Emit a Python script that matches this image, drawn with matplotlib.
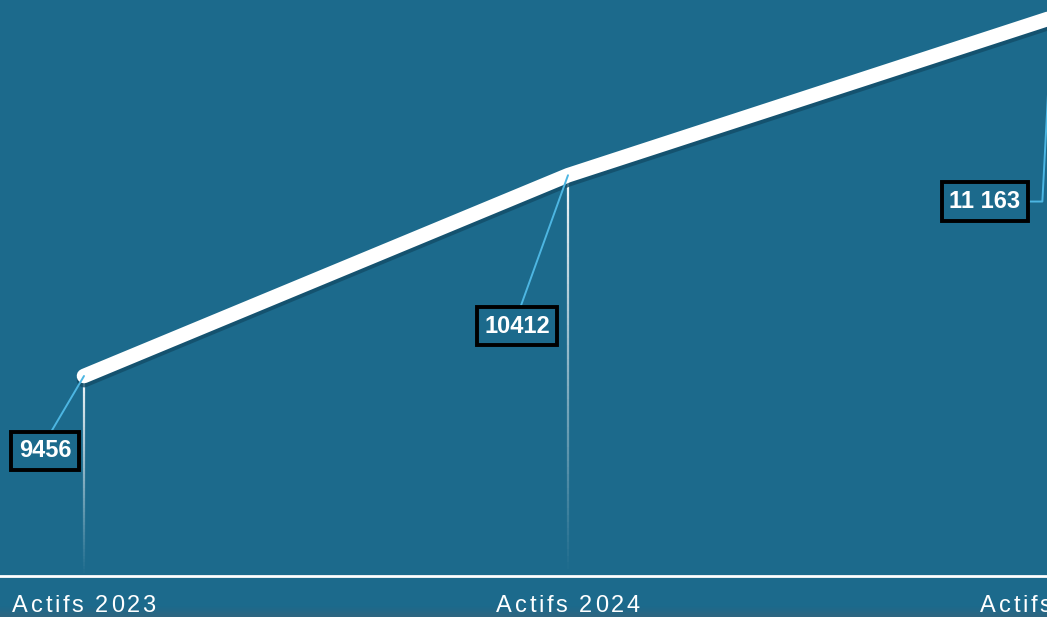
import matplotlib.pyplot as plt
import matplotlib.patheffects as pe
import numpy as np
from matplotlib.collections import LineCollection

# actifs par année
categories = ['Actifs 2023', 'Actifs 2024', 'Actifs 2025']
values = [9456, 10412, 11163]
labels = ['9456', '10412', '11 163']

BG = '#1c6a8c'
LEADER = '#4db6e2'

plt.rcParams['font.family'] = ['Liberation Sans', 'DejaVu Sans']

fig = plt.figure(figsize=(10.47, 6.17), dpi=100, facecolor=BG)
ax = fig.add_axes([0, 0, 1, 1])
ax.set_facecolor(BG)

# 484 px between categories, first point at x=84
ax.set_xlim(-84 / 484, 963 / 484)
# 0.21 px per unit, 9456 sits at 376 px from the top
ppu = 0.21
ax.set_ylim(9456 - 241 / ppu, 9456 + 376 / ppu)
base = 9456 - 200 / ppu
ax.axis('off')

x = np.arange(len(values))

# fading drop lines
for xi, v in zip(x, values):
    ys = np.linspace(v, base, 60)
    segs = [[(xi, ys[i]), (xi, ys[i + 1])] for i in range(len(ys) - 1)]
    alphas = np.linspace(0.95, 0.0, len(segs))
    cols = [(1, 1, 1, a) for a in alphas]
    ax.add_collection(LineCollection(segs, colors=cols, linewidths=1.6, zorder=2))

# baseline
ax.axhline(base, color='white', lw=2, zorder=3)

# main line with a soft shadow underneath
ax.plot(x, values, color='white', lw=10.5, solid_capstyle='round',
        solid_joinstyle='round', zorder=4,
        path_effects=[pe.SimpleLineShadow(offset=(0, -3), shadow_color='#124d68', alpha=0.8),
                      pe.Normal()])

# value labels
offsets = [(-39, -75), (-51, -151), (-67, -184)]
relpos = [(0.53, 1.0), (0.51, 1.0), (1.0, 0.5)]
conn = ['arc3', 'arc3', 'angle,angleA=0,angleB=87,rad=0']
for xi, v, lab, off, rp, cs in zip(x, values, labels, offsets, relpos, conn):
    ax.annotate(lab, xy=(xi, v), xytext=off, textcoords='offset pixels',
                ha='center', va='center', fontsize=17, fontweight='bold', color='white',
                bbox=dict(boxstyle='square,pad=0.32', fc=BG, ec='black', lw=2.8),
                arrowprops=dict(arrowstyle='-', color=LEADER, lw=1.4,
                                shrinkA=0, shrinkB=0, relpos=rp, connectionstyle=cs),
                zorder=6, annotation_clip=False)

# category labels with letter spacing
fig.canvas.draw()
renderer = fig.canvas.get_renderer()


def spaced_text(xd, y_fig, s, spacing=2.6, **kw):
    widths = []
    for ch in s:
        t = fig.text(0, 0, ch if ch != ' ' else '\u00a0', **kw)
        widths.append(t.get_window_extent(renderer).width)
        t.remove()
    total = sum(widths) + spacing * (len(s) - 1)
    px = ax.transData.transform((xd, 0))[0] - total / 2
    W = fig.bbox.width
    for ch, w in zip(s, widths):
        if ch != ' ':
            fig.text(px / W, y_fig, ch, ha='left', va='baseline', **kw)
        px += w + spacing


for xi, cat in zip(x, categories):
    spaced_text(xi, 4.5 / 617, cat, fontsize=17, color='white', zorder=5)

# darker band along the bottom edge
grad = np.linspace(0, 1, 50).reshape(-1, 1)
band = fig.add_axes([0, 0, 1, 11 / 617], zorder=-1)
band.imshow(grad, aspect='auto', cmap=plt.matplotlib.colors.LinearSegmentedColormap.from_list(
    'b', ['#2f6580', BG]), origin='lower', extent=(0, 1, 0, 1))
band.axis('off')
band.patch.set_alpha(0)
ax.set_zorder(1)
ax.patch.set_alpha(0)

fig.savefig('out.png', dpi=100, facecolor=BG)
